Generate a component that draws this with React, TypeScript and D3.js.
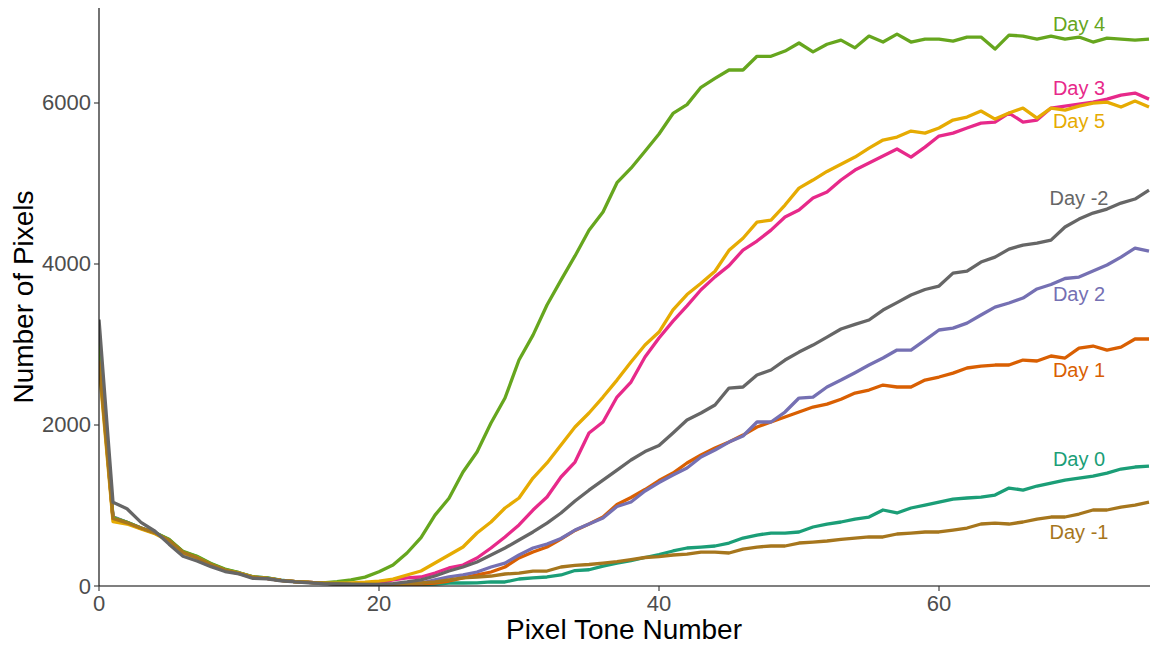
import React from "react";
import * as d3 from "d3";

const pixelTone: number[] = Array.from({ length: 76 }, (_, i) => i);

const day0 = [2850, 850, 790, 720, 665, 575, 425, 365, 275, 205, 165, 115, 100, 72, 55, 45, 35, 28, 22, 18, 15, 15, 15, 20, 25, 37, 37, 40, 50, 50, 87, 100, 112, 137, 192, 202, 248, 285, 316, 354, 391, 435, 472, 484, 497, 534, 596, 633, 658, 658, 671, 733, 770, 795, 832, 857, 944, 907, 969, 1006, 1043, 1080, 1093, 1105, 1130, 1217, 1192, 1242, 1279, 1316, 1341, 1366, 1403, 1453, 1478, 1490];
const day1 = [2900, 830, 780, 715, 655, 570, 420, 350, 265, 195, 155, 105, 95, 70, 55, 45, 35, 28, 22, 20, 18, 18, 20, 25, 37, 62, 100, 137, 174, 236, 348, 422, 484, 584, 690, 770, 857, 1012, 1100, 1198, 1310, 1403, 1528, 1627, 1714, 1788, 1875, 1975, 2037, 2099, 2161, 2223, 2260, 2320, 2397, 2434, 2496, 2472, 2472, 2558, 2596, 2645, 2708, 2732, 2745, 2745, 2807, 2795, 2857, 2832, 2956, 2981, 2931, 2968, 3068, 3068];
const day2 = [3000, 860, 790, 720, 660, 565, 415, 355, 265, 200, 160, 110, 95, 70, 55, 45, 35, 28, 22, 20, 18, 20, 25, 37, 75, 112, 137, 174, 236, 285, 385, 472, 521, 590, 695, 770, 845, 988, 1043, 1180, 1285, 1379, 1466, 1602, 1689, 1788, 1863, 2037, 2037, 2161, 2335, 2347, 2472, 2558, 2650, 2745, 2832, 2931, 2931, 3055, 3180, 3204, 3266, 3366, 3465, 3515, 3577, 3690, 3745, 3820, 3838, 3912, 3987, 4086, 4198, 4160];
const day3 = [2950, 840, 780, 720, 660, 570, 415, 355, 270, 200, 160, 110, 95, 70, 55, 45, 35, 30, 28, 30, 40, 75, 100, 112, 161, 224, 261, 348, 472, 609, 758, 944, 1105, 1354, 1540, 1900, 2037, 2347, 2534, 2844, 3080, 3290, 3480, 3680, 3840, 3980, 4173, 4285, 4421, 4583, 4670, 4819, 4894, 5043, 5167, 5254, 5341, 5428, 5328, 5452, 5589, 5626, 5689, 5750, 5763, 5875, 5763, 5788, 5937, 5962, 5986, 6011, 6048, 6098, 6123, 6048];
const day4 = [3050, 850, 790, 720, 660, 580, 430, 370, 280, 210, 165, 115, 100, 70, 55, 45, 40, 55, 75, 110, 178, 260, 410, 600, 880, 1090, 1416, 1664, 2024, 2335, 2807, 3117, 3490, 3800, 4100, 4420, 4645, 5010, 5190, 5400, 5615, 5870, 5980, 6195, 6305, 6410, 6410, 6580, 6580, 6645, 6745, 6635, 6730, 6781, 6685, 6831, 6757, 6856, 6757, 6794, 6794, 6769, 6819, 6819, 6670, 6843, 6831, 6794, 6831, 6794, 6819, 6757, 6806, 6794, 6781, 6794];
const day5 = [2750, 800, 770, 710, 650, 560, 410, 350, 265, 195, 160, 110, 95, 70, 55, 45, 35, 35, 40, 48, 60, 85, 137, 186, 285, 385, 484, 658, 795, 969, 1093, 1341, 1528, 1751, 1975, 2149, 2347, 2558, 2782, 2993, 3155, 3430, 3620, 3760, 3910, 4170, 4320, 4520, 4546, 4732, 4943, 5043, 5150, 5240, 5328, 5440, 5540, 5577, 5651, 5626, 5689, 5788, 5825, 5900, 5800, 5875, 5937, 5813, 5937, 5912, 5962, 5999, 6011, 5950, 6024, 5950];
const dayM1 = [2800, 840, 785, 718, 660, 568, 418, 352, 268, 198, 158, 108, 96, 70, 55, 45, 35, 28, 22, 20, 18, 20, 25, 37, 50, 75, 100, 112, 124, 149, 161, 186, 186, 236, 255, 267, 285, 304, 329, 354, 366, 385, 397, 422, 422, 410, 459, 484, 497, 497, 534, 546, 559, 580, 596, 609, 609, 646, 658, 671, 671, 695, 720, 770, 782, 770, 795, 832, 857, 857, 894, 944, 944, 981, 1006, 1043];
const dayM2 = [3310, 1040, 960, 790, 680, 520, 370, 310, 240, 180, 150, 95, 90, 65, 50, 40, 30, 25, 22, 20, 20, 30, 50, 75, 124, 186, 236, 298, 385, 472, 571, 671, 782, 907, 1055, 1190, 1315, 1440, 1565, 1670, 1745, 1900, 2062, 2149, 2248, 2459, 2472, 2621, 2683, 2807, 2906, 2993, 3092, 3192, 3250, 3304, 3428, 3520, 3615, 3683, 3726, 3887, 3912, 4024, 4086, 4185, 4235, 4260, 4297, 4459, 4558, 4633, 4682, 4757, 4807, 4918];

const seriesNames = ["Day 0", "Day 1", "Day 2", "Day 3", "Day 4", "Day 5", "Day -1", "Day -2"];
const seriesValues = [day0, day1, day2, day3, day4, day5, dayM1, dayM2];
const seriesColors = ["#1B9E77", "#D95F02", "#7570B3", "#E7298A", "#66A61E", "#E6AB02", "#A6761D", "#666666"];
const labelX = 70;
const labelY = [1577, 2683, 3627, 6185, 6980, 5775, 670, 4819];

const xTicks = [0, 20, 40, 60];
const yTicks = [0, 2000, 4000, 6000];

const W = 1151;
const H = 647;
const left = 99;
const right = 1149;
const top = 8;
const bottom = 586;

export default function App() {
  const x = d3.scaleLinear().domain([0, 75]).range([left, right]);
  const y = d3.scaleLinear().domain([0, 7180]).range([bottom, top]);
  const line = d3
    .line<number>()
    .x((_, i) => x(pixelTone[i]))
    .y((d) => y(d));
  const font = "'Liberation Sans', Arial, sans-serif";

  return (
    <svg
      width={W}
      height={H}
      style={{ position: "absolute", left: 0, top: 0, background: "#fff" }}
      fontFamily={font}
    >
      <rect x={0} y={0} width={W} height={H} fill="#fff" />
      <defs>
        <clipPath id="plotclip">
          <rect x={left} y={top - 4} width={right - left + 2} height={bottom - top + 4} />
        </clipPath>
      </defs>
      <g clipPath="url(#plotclip)">
        {seriesValues.map((vals, k) => (
          <path
            key={seriesNames[k]}
            d={line(vals) || ""}
            fill="none"
            stroke={seriesColors[k]}
            strokeWidth={3.3}
            strokeLinejoin="round"
            strokeLinecap="butt"
          />
        ))}
      </g>
      {seriesNames.map((name, k) => (
        <text
          key={"lab" + name}
          x={x(labelX)}
          y={y(labelY[k])}
          fill={seriesColors[k]}
          fontSize={20}
          textAnchor="middle"
          dominantBaseline="central"
        >
          {name}
        </text>
      ))}
      <line x1={left} x2={right + 1} y1={bottom} y2={bottom} stroke="#000" strokeWidth={1.1} />
      <line x1={left} x2={left} y1={top} y2={bottom} stroke="#000" strokeWidth={1.1} />
      {xTicks.map((t) => (
        <g key={"xt" + t}>
          <line x1={x(t)} x2={x(t)} y1={bottom} y2={bottom + 5} stroke="#333" strokeWidth={1.1} />
          <text x={x(t)} y={bottom + 25} textAnchor="middle" fontSize={22} fill="#4D4D4D">
            {t}
          </text>
        </g>
      ))}
      {yTicks.map((t) => (
        <g key={"yt" + t}>
          <line x1={left - 5} x2={left} y1={y(t)} y2={y(t)} stroke="#333" strokeWidth={1.1} />
          <text
            x={left - 8}
            y={y(t)}
            textAnchor="end"
            dominantBaseline="central"
            fontSize={22}
            fill="#4D4D4D"
          >
            {t}
          </text>
        </g>
      ))}
      <text x={(left + right) / 2} y={639} textAnchor="middle" fontSize={28} fill="#000">
        Pixel Tone Number
      </text>
      <text
        transform={`translate(33, ${(top + bottom) / 2}) rotate(-90)`}
        textAnchor="middle"
        fontSize={28}
        fill="#000"
      >
        Number of Pixels
      </text>
    </svg>
  );
}
